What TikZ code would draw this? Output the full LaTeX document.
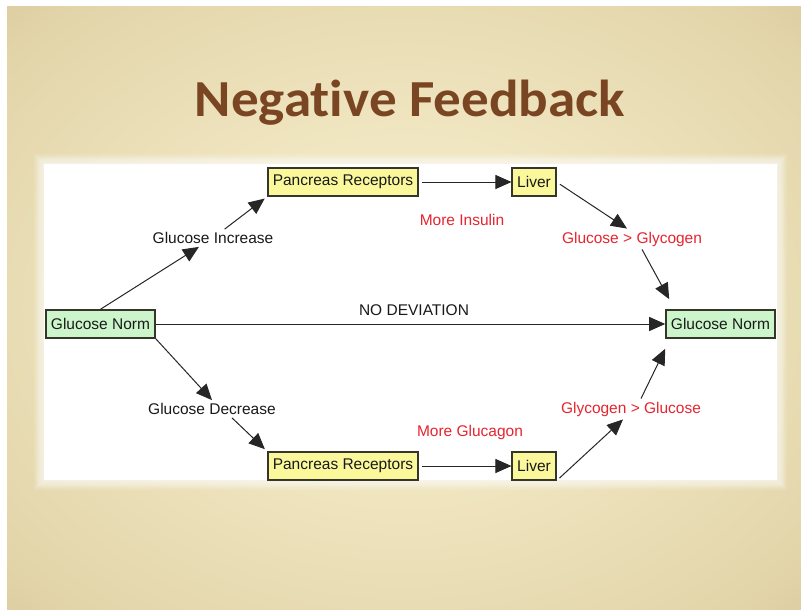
\documentclass[tikz,border=0pt]{standalone}
\usepackage{fontspec}
\usetikzlibrary{arrows.meta}
\setmainfont{Liberation Sans}
\newfontfamily\titlefont[Ligatures=NoCommon]{Carlito}
\newcommand\diag{\fontsize{15.5}{18}\selectfont}
\definecolor{bgin}{HTML}{F0E6C1}
\definecolor{bgmid}{HTML}{E3D5AA}
\definecolor{bgedge}{HTML}{C9AF81}
\definecolor{bgout}{HTML}{BE9F6E}
\definecolor{titlebrown}{HTML}{7A4522}
\definecolor{boxline}{HTML}{35352A}
\definecolor{boxyellow}{HTML}{FBF89C}
\definecolor{boxgreen}{HTML}{CDF5CB}
\definecolor{labelred}{HTML}{E6252F}
\pgfdeclareradialshading{slidebg}{\pgfpoint{0bp}{0bp}}{color(0bp)=(bgin); color(14bp)=(bgin); color(32bp)=(bgmid); color(50bp)=(bgedge); color(72bp)=(bgout)}
\tikzset{>={Triangle[length=16pt,width=14pt]}}
\tikzset{
  box/.style={draw=boxline, line width=1.5pt, minimum height=28pt, inner xsep=5pt, font=\diag, text=black!90},
  yellowbox/.style={box, fill=boxyellow},
  greenbox/.style={box, fill=boxgreen},
  lbl/.style={font=\diag, inner sep=3pt, text=black!90},
  redlbl/.style={lbl, text=labelred},
  flow/.style={->, draw=black!85, line width=1pt}
}

\begin{document}
\begin{tikzpicture}[x=1pt, y=-1pt]
    \useasboundingbox (0,0) rectangle (801,610);
    % slide background
    \fill[white] (0,0) rectangle (801,610);
    \shade[shading=slidebg] (7,7) rectangle (801,610);
    \foreach \g in {1,...,8}
        \fill[white, opacity=0.12] ({44-1.2*\g},{164-1.2*\g}) rectangle ({777+1.2*\g},{480+1.2*\g});
    \fill[white] (44,164) rectangle (777,480);
    % title
    \node[anchor=base, text=titlebrown] (title) at (410,117) {\titlefont\bfseries\fontsize{52}{56}\selectfont\scalebox{1.06}[1]{Negative Feedback}};
    % boxes
    \node[greenbox] (gnL) at (100.5,324) {Glucose Norm};
    \node[greenbox] (gnR) at (720.5,324) {Glucose Norm};
    \node[yellowbox] (prT) at (343,182) {Pancreas Receptors};
    \node[yellowbox] (lvT) at (534,182) {Liver};
    \node[yellowbox] (prB) at (343,466) {Pancreas Receptors};
    \node[yellowbox] (lvB) at (534,466) {Liver};
    % labels
    \node[lbl] (inc) at (213,238) {Glucose Increase};
    \node[lbl] (dec) at (212,409) {Glucose Decrease};
    \node[lbl] (nodev) at (414,310) {NO DEVIATION};
    \node[redlbl] (ins) at (462,220) {More Insulin};
    \node[redlbl] (gcn) at (470,432) {More Glucagon};
    \node[redlbl] (g2g) at (632,239) {Glucose > Glycogen};
    \node[redlbl] (y2g) at (631,409) {Glycogen > Glucose};
    % connectors
    \draw[flow] (gnL.north) -- (inc);
    \draw[flow, shorten >=3pt] (inc) -- (prT.south west);
    \draw[flow] (gnL.south east) -- (dec.north);
    \draw[flow, shorten >=3pt] ([xshift=20pt]dec.south) -- (prB.north west);
    \draw[flow, shorten <=3pt] (prT) -- (lvT);
    \draw[flow, shorten <=3pt] (prB) -- (lvB);
    \draw[flow] (gnL) -- (gnR);
    \draw[flow, shorten <=4pt] (lvT.east) -- ([xshift=-5pt]g2g.north);
    \draw[flow] ([xshift=10pt]g2g.south) -- ([xshift=4pt,yshift=10pt]gnR.north west);
    \draw[flow, shorten <=4pt] (lvB.south east) -- ([xshift=-8pt]y2g.south);
    \draw[flow] ([xshift=10pt]y2g.north) -- ([xshift=0pt,yshift=-10pt]gnR.south west);
\end{tikzpicture}
\end{document}
